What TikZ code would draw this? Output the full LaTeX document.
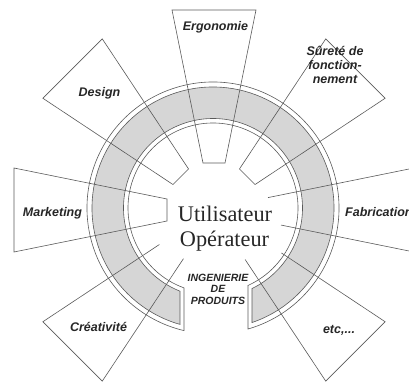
\documentclass[tikz,border=0pt]{standalone}
\usepackage{fontspec}
\setmainfont{Liberation Serif}
\newfontfamily\labfont{Liberation Sans}
\usetikzlibrary{calc}
\definecolor{linegray}{RGB}{90,90,90}
\definecolor{ringfill}{RGB}{214,214,214}
\begin{document}
\begin{tikzpicture}[x=1pt,y=1pt,
  petal/.style={draw=linegray, line width=0.6pt, line join=miter},
  ringline/.style={draw=linegray, line width=0.6pt},
  lab/.style={font={\labfont\bfseries\itshape\fontsize{12.5}{14}\selectfont}, text=black!85, inner sep=0pt, align=center, anchor=base},
  smalllab/.style={font={\labfont\bfseries\itshape\fontsize{10.5}{11.5}\selectfont}, text=black!85, inner sep=0pt, align=center, anchor=base},
  bigtext/.style={font={\fontsize{22.3}{26}\selectfont}, text=black!85, inner sep=0pt, anchor=base}]
\useasboundingbox (0,0) rectangle (409,383);
\coordinate (O) at (213,175);
\coordinate (P) at (214,173);
% ring outline
\draw[ringline] ($(O)+(-73.87:126)$) arc[start angle=-73.87, end angle=256.69, radius=126]
  -- ($(O)+(250.05:85)$) arc[start angle=250.05, end angle=-65.69, radius=85] -- cycle;
% grey band
\filldraw[ringline, fill=ringfill] ($(O)+(-71.20:121)$) arc[start angle=-71.20, end angle=254.17, radius=121]
  -- ($(O)+(248.36:89.5)$) arc[start angle=248.36, end angle=-64.16, radius=89.5] -- cycle;
% closed petals
\foreach \a in {90,45,135,180}{
  \begin{scope}[shift={(P)}, rotate=\a]
    \draw[petal] (47,-11) -- (200,-42) -- (200,42) -- (47,11) -- cycle;
  \end{scope}}
% open petals
\begin{scope}[shift={(P)}, rotate=0]
  \draw[petal] (54,12.4) -- (200,42) -- (200,-42) -- (67,-15.05);
\end{scope}
\begin{scope}[shift={(P)}, rotate=-45]
  \draw[petal] (78,17.3) -- (200,42) -- (200,-42) -- (57,-13.0);
\end{scope}
\begin{scope}[shift={(P)}, rotate=225]
  \draw[petal] (56,12.8) -- (200,42) -- (200,-42) -- (63,-14.2);
\end{scope}
% labels
\node[lab] (ergo) at (215.5,352) {Ergonomie};
\node[lab] (design) at (99.5,286) {Design};
\node[lab] (surete) at (335,299) {Sûreté de\\fonction-\\nement};
\node[lab] (market) at (52.5,166) {Marketing};
\node[lab, anchor=base west] (fab) at (345,167) {Fabrication};
\node[lab] (creat) at (98.5,52) {Créativité};
\node[lab] (etc) at (339,50) {etc,...};
\node[smalllab] (ing) at (218,79) {INGENIERIE\\DE\\PRODUITS};
\node[bigtext] (util) at (225,161) {Utilisateur};
\node[bigtext] (oper) at (224.5,136) {Opérateur};
\end{tikzpicture}
\end{document}
